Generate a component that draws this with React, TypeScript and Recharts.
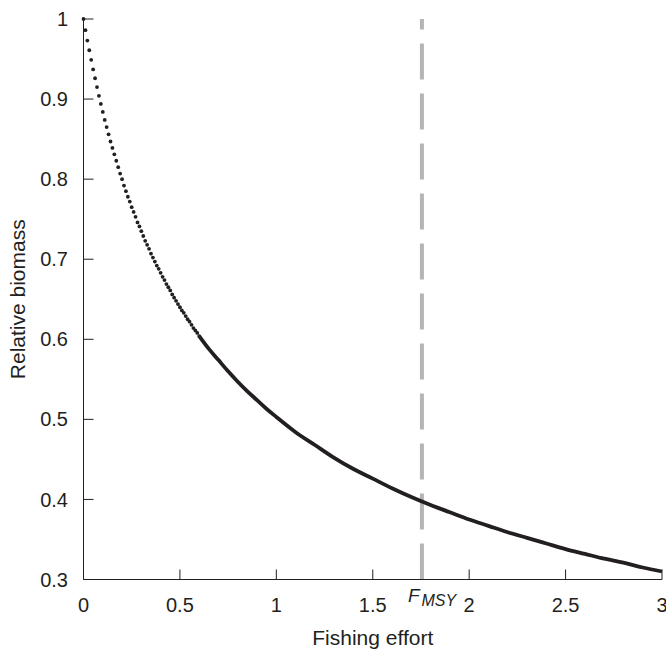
import React from 'react';
import { ComposedChart, Scatter, Line, XAxis, YAxis, ReferenceLine } from 'recharts';

// Fishing effort (x) and relative biomass (y) for the dotted early part of the curve
const dotEffort = [
  0, 0.01, 0.02, 0.03, 0.04, 0.05, 0.06, 0.07, 0.08, 0.09,
  0.1, 0.11, 0.12, 0.13, 0.14, 0.15, 0.16, 0.17, 0.18, 0.19,
  0.2, 0.21, 0.22, 0.23, 0.24, 0.25, 0.26, 0.27, 0.28, 0.29,
  0.3, 0.31, 0.32, 0.33, 0.34, 0.35, 0.36, 0.37, 0.38, 0.39,
  0.4, 0.41, 0.42, 0.43, 0.44, 0.45, 0.46, 0.47, 0.48, 0.49,
  0.5, 0.51, 0.52, 0.53, 0.54, 0.55, 0.56, 0.57, 0.58, 0.59,
  0.6,
];
const dotBiomass = [
  1.0, 0.986, 0.973, 0.961, 0.949, 0.937, 0.926, 0.915, 0.904, 0.894,
  0.884, 0.874, 0.865, 0.856, 0.847, 0.839, 0.831, 0.823, 0.815, 0.807,
  0.8, 0.792, 0.785, 0.778, 0.772, 0.765, 0.759, 0.753, 0.746, 0.741,
  0.735, 0.729, 0.723, 0.718, 0.713, 0.707, 0.702, 0.697, 0.692, 0.688,
  0.683, 0.678, 0.674, 0.669, 0.665, 0.661, 0.656, 0.652, 0.648, 0.644,
  0.64, 0.636, 0.633, 0.629, 0.625, 0.622, 0.618, 0.614, 0.611, 0.608,
  0.604,
];

// Continuation of the curve where the dots merge into a solid line
const lineEffort = [
  0.6, 0.65, 0.7, 0.75, 0.8, 0.85, 0.9, 0.95, 1.0,
  1.1, 1.2, 1.3, 1.4, 1.5, 1.6, 1.7, 1.8, 1.9, 2.0,
  2.1, 2.2, 2.3, 2.4, 2.5, 2.6, 2.7, 2.8, 2.9, 3.0,
];
const lineBiomass = [
  0.604, 0.588, 0.574, 0.56, 0.547, 0.535, 0.524, 0.513, 0.503,
  0.484, 0.468, 0.452, 0.438, 0.426, 0.414, 0.403, 0.393, 0.384, 0.375,
  0.367, 0.359, 0.352, 0.345, 0.338, 0.332, 0.326, 0.321, 0.315, 0.31,
];

const xTicks = [0, 0.5, 1, 1.5, 2, 2.5, 3];
const yTicks = [0.3, 0.4, 0.5, 0.6, 0.7, 0.8, 0.9, 1];
const fMsy = 1.755;

const dotData = dotEffort.map((f, i) => ({ f, b: dotBiomass[i] }));
const lineData = lineEffort.map((f, i) => ({ f, b: lineBiomass[i] }));

const INK = '#231f20';
const FONT = '"Liberation Sans", Arial, Helvetica, sans-serif';
const X_MARGIN = 18;
const Y_MARGIN = 15.5;
const TICK_LEN = 10;

const XTick = (props: any) => {
  const { x, y, payload } = props;
  return (
    <g>
      <line x1={x} x2={x} y1={y - X_MARGIN} y2={y - X_MARGIN - TICK_LEN} stroke={INK} strokeWidth={1} />
      <text x={x} y={y} dy="0.71em" textAnchor="middle" fontSize={20} fill={INK} fontFamily={FONT}>
        {payload.value}
      </text>
    </g>
  );
};

const YTick = (props: any) => {
  const { x, y, payload } = props;
  return (
    <g>
      <line x1={x + Y_MARGIN} x2={x + Y_MARGIN + TICK_LEN} y1={y} y2={y} stroke={INK} strokeWidth={1} />
      <text x={x} y={y} dy="0.355em" textAnchor="end" fontSize={20} fill={INK} fontFamily={FONT}>
        {payload.value}
      </text>
    </g>
  );
};

const renderXLabel = (props: any) => {
  const vb = props.viewBox;
  return (
    <text x={vb.x + vb.width / 2} y={vb.y + 65.5} textAnchor="middle" fontSize={21} fill={INK} fontFamily={FONT}>
      Fishing effort
    </text>
  );
};

const renderYLabel = (props: any) => {
  const vb = props.viewBox;
  const cx = vb.x + 17.5;
  const cy = vb.y + vb.height / 2;
  return (
    <text
      x={cx}
      y={cy}
      dy="0.355em"
      textAnchor="middle"
      transform={`rotate(-90, ${cx}, ${cy})`}
      fontSize={21}
      fill={INK}
      fontFamily={FONT}
    >
      Relative biomass
    </text>
  );
};

const renderMsyLabel = (props: any) => {
  const vb = props.viewBox;
  const bottom = vb.y + vb.height;
  return (
    <text x={vb.x - 14} y={bottom + 22.5} fill={INK} fontFamily={FONT} fontStyle="italic">
      <tspan fontSize={19}>F</tspan>
      <tspan fontSize={16} dx={2} dy={4}>MSY</tspan>
    </text>
  );
};

const Dot = (props: any) => {
  const { cx, cy } = props;
  return <circle cx={cx} cy={cy} r={1.9} fill={INK} />;
};

export default function App() {
  return (
    <div style={{ width: 666, height: 650, background: '#fff' }}>
      <style>{'body{margin:0;background:#fff}'}</style>
      <ComposedChart width={666} height={650} margin={{ top: 19, right: 4, bottom: 0, left: 0 }}>
        <XAxis
          type="number"
          dataKey="f"
          domain={[0, 3]}
          ticks={xTicks}
          interval={0}
          tickSize={0}
          tickMargin={X_MARGIN}
          tick={<XTick />}
          axisLine={{ stroke: INK, strokeWidth: 1 }}
          height={70.5}
          label={renderXLabel}
        />
        <YAxis
          type="number"
          dataKey="b"
          domain={[0.3, 1]}
          ticks={yTicks}
          interval={0}
          tickSize={0}
          tickMargin={Y_MARGIN}
          tick={<YTick />}
          axisLine={{ stroke: INK, strokeWidth: 1 }}
          width={83.5}
          label={renderYLabel}
        />
        <ReferenceLine
          x={fMsy}
          stroke="#b5b5b5"
          strokeWidth={4}
          strokeDasharray="36 14"
          label={renderMsyLabel}
        />
        <Line
          data={lineData}
          dataKey="b"
          type="monotone"
          stroke={INK}
          strokeWidth={3.8}
          dot={false}
          activeDot={false}
          isAnimationActive={false}
        />
        <Scatter data={dotData} dataKey="b" shape={<Dot />} fill={INK} isAnimationActive={false} />
      </ComposedChart>
    </div>
  );
}
